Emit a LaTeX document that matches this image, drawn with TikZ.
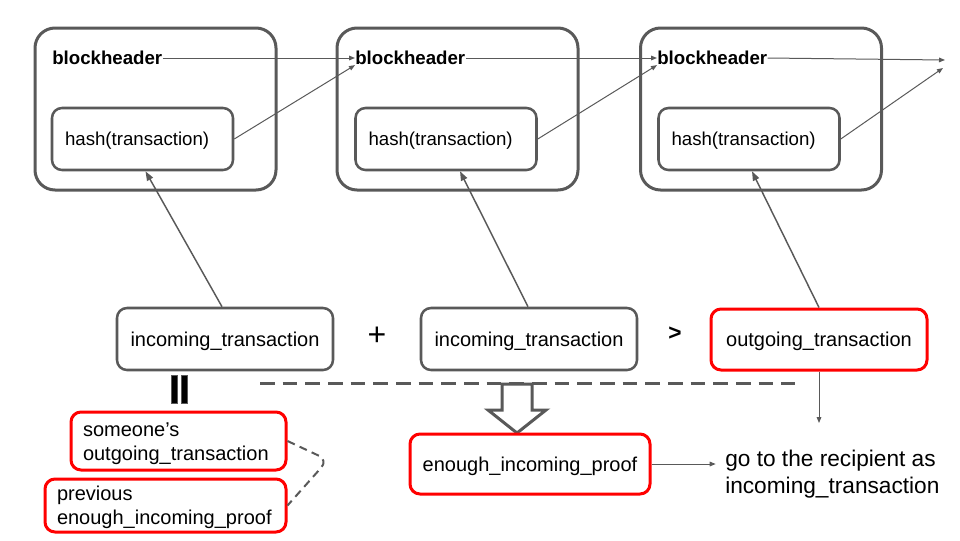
\documentclass[tikz,border=0pt]{standalone}
\usepackage{fontspec}
\setmainfont{Liberation Sans}
\usetikzlibrary{arrows.meta,calc}
\definecolor{boxgray}{HTML}{595959}
\definecolor{alertred}{HTML}{FF0000}
\begin{document}
\begin{tikzpicture}[x=0.75pt,y=-0.75pt,
	blockbox/.style={draw=boxgray,line width=2.25pt,rounded corners=15pt,minimum width=180.75pt,minimum height=121.5pt,inner sep=0pt},
	hashbox/.style={draw=boxgray,line width=1.9pt,rounded corners=7.5pt,minimum height=46.5pt,text width=116.25pt,text depth=0pt,inner xsep=9.75pt,align=left,font=\fontsize{14}{17}\selectfont},
	header/.style={anchor=west,inner sep=0pt,font=\bfseries\fontsize{14}{17}\selectfont},
	txbox/.style={draw=boxgray,line width=1.9pt,rounded corners=7.5pt,minimum width=162pt,minimum height=46.5pt,text depth=0pt,font=\fontsize{15}{18}\selectfont},
	redbox/.style={draw=alertred,line width=2.25pt,rounded corners=7.5pt,font=\fontsize{15}{18}\selectfont},
	thinarrow/.style={draw=boxgray,line width=0.75pt,-{Triangle[length=4.5pt,width=3.5pt]}},
	feedarrow/.style={draw=boxgray,line width=1.1pt,-{Triangle[length=7pt,width=5pt]}}]
	\useasboundingbox (0,0) rectangle (960,540);
	
	\node[blockbox] (B1) at (155.5,109) {};
	\node[blockbox] (B2) at (457.5,109) {};
	\node[blockbox] (B3) at (761,109) {};
	\node[header] (H1) at (52,58) {blockheader};
	\node[header] (H2) at (355,58) {blockheader};
	\node[header] (H3) at (657,58) {blockheader};
	\node[hashbox] (X1) at (142.5,139) {hash(transaction)};
	\node[hashbox] (X2) at (446,139) {hash(transaction)};
	\node[hashbox] (X3) at (749,139) {hash(transaction)};
	\coordinate (nextH) at (945,60);
	\coordinate (nextX) at (943,68);
	
	\draw[thinarrow] (H1.east) -- (H2.west);
	\draw[thinarrow] (H2.east) -- (H3.west);
	\draw[thinarrow] (H3.east) -- (nextH);
	\draw[thinarrow] (X1.east) -- (H2.south west);
	\draw[thinarrow] (X2.east) -- (H3.south west);
	\draw[thinarrow] (X3.east) -- (nextX);
	
	\node[txbox] (I1) at (225,339) {incoming\_transaction};
	\node[font=\fontsize{24}{24}\selectfont] (plus) at (377,336) {+};
	\node[txbox] (I2) at (529,339) {incoming\_transaction};
	\node[font=\bfseries\fontsize{17}{17}\selectfont] (gt) at (675,334) {>};
	\node[redbox,text depth=0pt,minimum width=162pt,minimum height=45.75pt] (O) at (819,339.5) {outgoing\_transaction};
	
	\draw[feedarrow] ($(I1.north)+(-3,0)$) -- ($(X1.south)+(3,0)$);
	\draw[feedarrow] ($(I2.north)+(-1,0)$) -- ($(X2.south)+(14,0)$);
	\draw[feedarrow] (O.north) -- ($(X3.south)+(3,0)$);
	
	\draw[fill=black,draw=boxgray,line width=0.75pt] (171,375) rectangle (177,403);
	\draw[fill=black,draw=boxgray,line width=0.75pt] (181,375) rectangle (187,403);
	
	\coordinate (cutL) at (260,383);
	\coordinate (cutR) at (795,383);
	\draw[boxgray,line width=2.25pt,dash pattern=on 11pt off 6pt] (cutL) -- (cutR);
	\draw[boxgray,line width=2.25pt,fill=white,line join=miter] (502,384) -- (532,384) -- (532,410) -- (546,410) -- (517,433) -- (488,410) -- (502,410) -- cycle;
	
	\node[redbox,minimum width=161.25pt,minimum height=43.5pt,text width=143.25pt,text height=15pt,inner xsep=9pt,inner ysep=1pt,align=left] (S) at (178.5,441) {someone’s\\outgoing\_transaction};
	\node[redbox,minimum width=180.75pt,minimum height=39.75pt,text width=162.75pt,text height=13pt,inner xsep=9pt,inner ysep=1pt,align=left] (P) at (165.5,505.5) {previous\\enough\_incoming\_proof};
	\draw[boxgray,line width=1.5pt,dash pattern=on 6pt off 4pt,rounded corners=7.5pt] (S.east) -- (328,460) -- (P.east);
	
	\node[redbox,text depth=0pt,minimum width=180pt,minimum height=45pt] (E) at (530,464) {enough\_incoming\_proof};
	\node[anchor=west,align=left,inner sep=0pt,font=\fontsize{17}{20.25}\selectfont] (R) at (725,474) {go to the recipient as\\incoming\_transaction};
	\coordinate (drop) at (819,423);
	\draw[thinarrow] (O.south) -- (drop);
	\draw[thinarrow,shorten >=7pt] (E.east) -- (E.east -| R.west);
\end{tikzpicture}
\end{document}
